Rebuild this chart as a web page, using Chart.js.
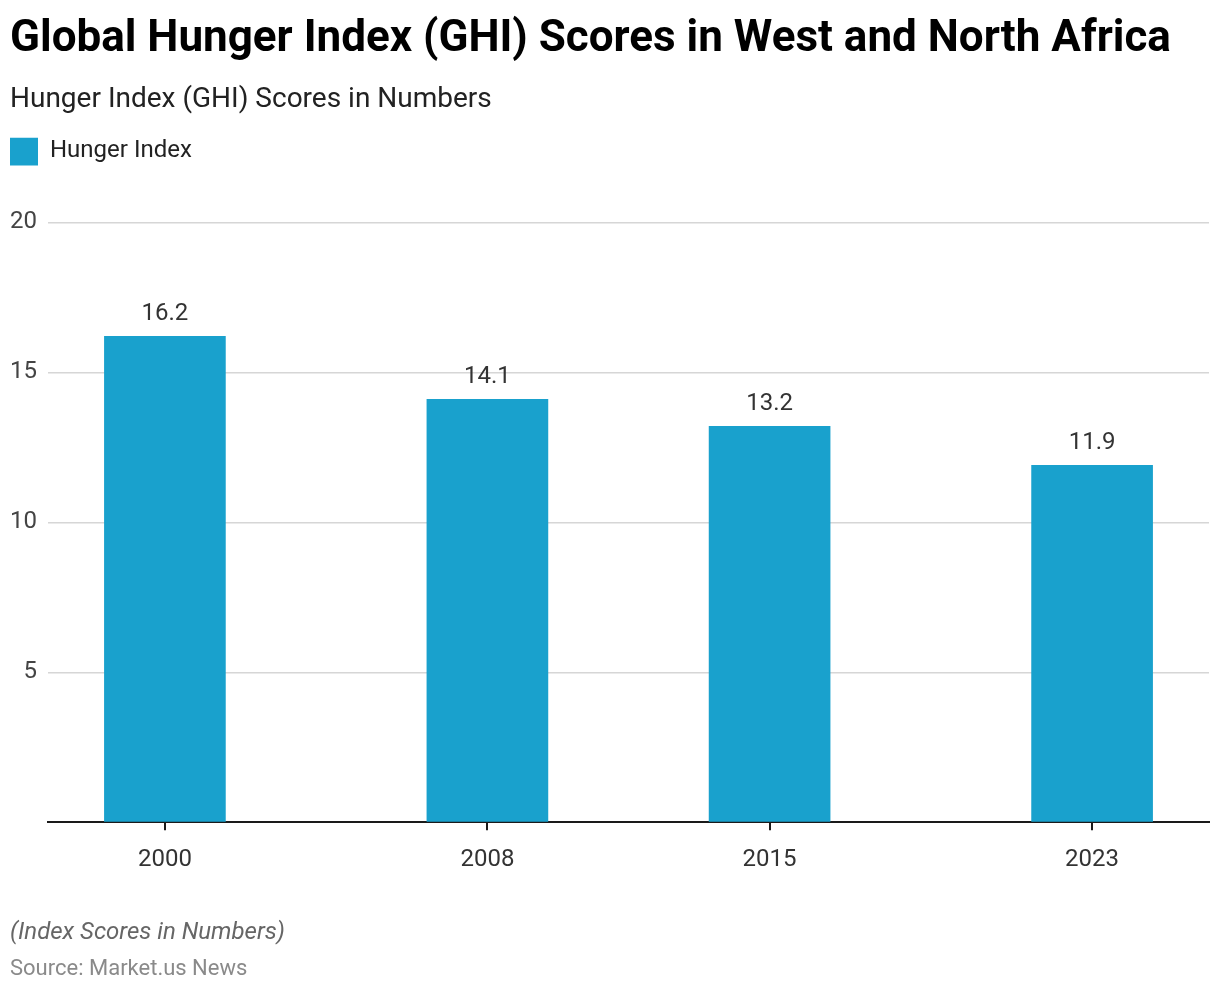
<!DOCTYPE html>
<html>
<head>
<meta charset="utf-8">
<script src="https://cdn.jsdelivr.net/npm/chart.js@4.4.1/dist/chart.umd.min.js"></script>
<style>
  html, body { margin: 0; padding: 0; background: #fff; }
  #wrap { position: relative; width: 1220px; height: 994px; }
</style>
</head>
<body>
<div id="wrap"><canvas id="c"></canvas></div>
<script>
const years = [2000, 2008, 2015, 2023];
const hungerIndex = [16.2, 14.1, 13.2, 11.9];
const yTicks = [0, 5, 10, 15, 20];

const titleText = 'Global Hunger Index (GHI) Scores in West and North Africa';
const subtitleText = 'Hunger Index (GHI) Scores in Numbers';
const seriesName = 'Hunger Index';
const noteText = '(Index Scores in Numbers)';
const sourceText = 'Source: Market.us News';

const barColor = '#19a1cd';

const valueLabels = {
  id: 'valueLabels',
  afterDatasetsDraw(chart) {
    const ctx = chart.ctx;
    const meta = chart.getDatasetMeta(0);
    ctx.save();
    ctx.font = '24px Roboto';
    ctx.fillStyle = '#333333';
    ctx.textAlign = 'center';
    ctx.textBaseline = 'middle';
    meta.data.forEach((bar, i) => {
      ctx.fillText(String(hungerIndex[i]), bar.x, bar.y - 22);
    });
    ctx.restore();
  }
};

const footer = {
  id: 'footer',
  afterDraw(chart) {
    const ctx = chart.ctx;
    ctx.save();
    ctx.textAlign = 'left';
    ctx.textBaseline = 'middle';
    ctx.font = 'italic 24px Roboto';
    ctx.fillStyle = '#666666';
    ctx.fillText(noteText, 10, 933);
    ctx.font = '22px Roboto';
    ctx.fillStyle = '#8a8a8a';
    ctx.fillText(sourceText, 10, 969);
    ctx.restore();
  }
};

const legendSpacer = {
  id: 'legendSpacer',
  beforeInit(chart) {
    const origFit = chart.legend.fit;
    chart.legend.fit = function () {
      origFit.bind(chart.legend)();
      this.height += 47;
    };
  }
};

new Chart(document.getElementById('c'), {
  type: 'bar',
  data: {
    datasets: [{
      label: seriesName,
      data: years.map((y, i) => ({ x: y, y: hungerIndex[i] })),
      backgroundColor: barColor,
      borderWidth: 0,
      barThickness: 121
    }]
  },
  options: {
    responsive: true,
    maintainAspectRatio: false,
    animation: false,
    layout: { padding: { left: 10, right: 11, top: 0, bottom: 105 } },
    plugins: {
      title: {
        display: true,
        text: titleText,
        align: 'start',
        color: '#000000',
        font: { family: 'Roboto', size: 44, weight: 'bold' },
        padding: { top: 14, bottom: 16 }
      },
      subtitle: {
        display: true,
        text: subtitleText,
        align: 'start',
        color: '#222222',
        font: { family: 'Roboto', size: 28 },
        padding: { top: 0, bottom: 21 }
      },
      legend: {
        display: true,
        align: 'start',
        labels: {
          boxWidth: 28,
          boxHeight: 28,
          color: '#222222',
          font: { family: 'Roboto', size: 24 },
          padding: 0
        }
      },
      tooltip: { enabled: false }
    },
    scales: {
      x: {
        type: 'linear',
        offset: false,
        min: 1997.1,
        max: 2025.9,
        afterBuildTicks(axis) {
          axis.ticks = years.map(v => ({ value: v }));
        },
        afterFit(axis) {
          axis.paddingLeft = 0;
          axis.paddingRight = 0;
        },
        ticks: {
          color: '#333333',
          font: { family: 'Roboto', size: 24 },
          padding: 15,
          autoSkip: false,
          maxRotation: 0,
          callback: v => String(v)
        },
        grid: {
          offset: false,
          drawOnChartArea: false,
          drawTicks: true,
          tickLength: 8,
          color: '#1a1a1a',
          lineWidth: 2
        },
        border: { display: true, color: '#1a1a1a', width: 2 }
      },
      y: {
        min: 0,
        max: 20,
        afterBuildTicks(axis) {
          axis.ticks = yTicks.map(v => ({ value: v }));
        },
        afterFit(axis) {
          axis.width = 38;
        },
        ticks: {
          color: '#444444',
          font: { family: 'Roboto', size: 24 },
          padding: 11,
          callback: v => (v === 0 ? '' : String(v))
        },
        grid: {
          drawTicks: false,
          color: '#d6d6d6',
          lineWidth: 1.5
        },
        border: { display: false }
      }
    }
  },
  plugins: [valueLabels, footer, legendSpacer]
});
</script>
</body>
</html>
